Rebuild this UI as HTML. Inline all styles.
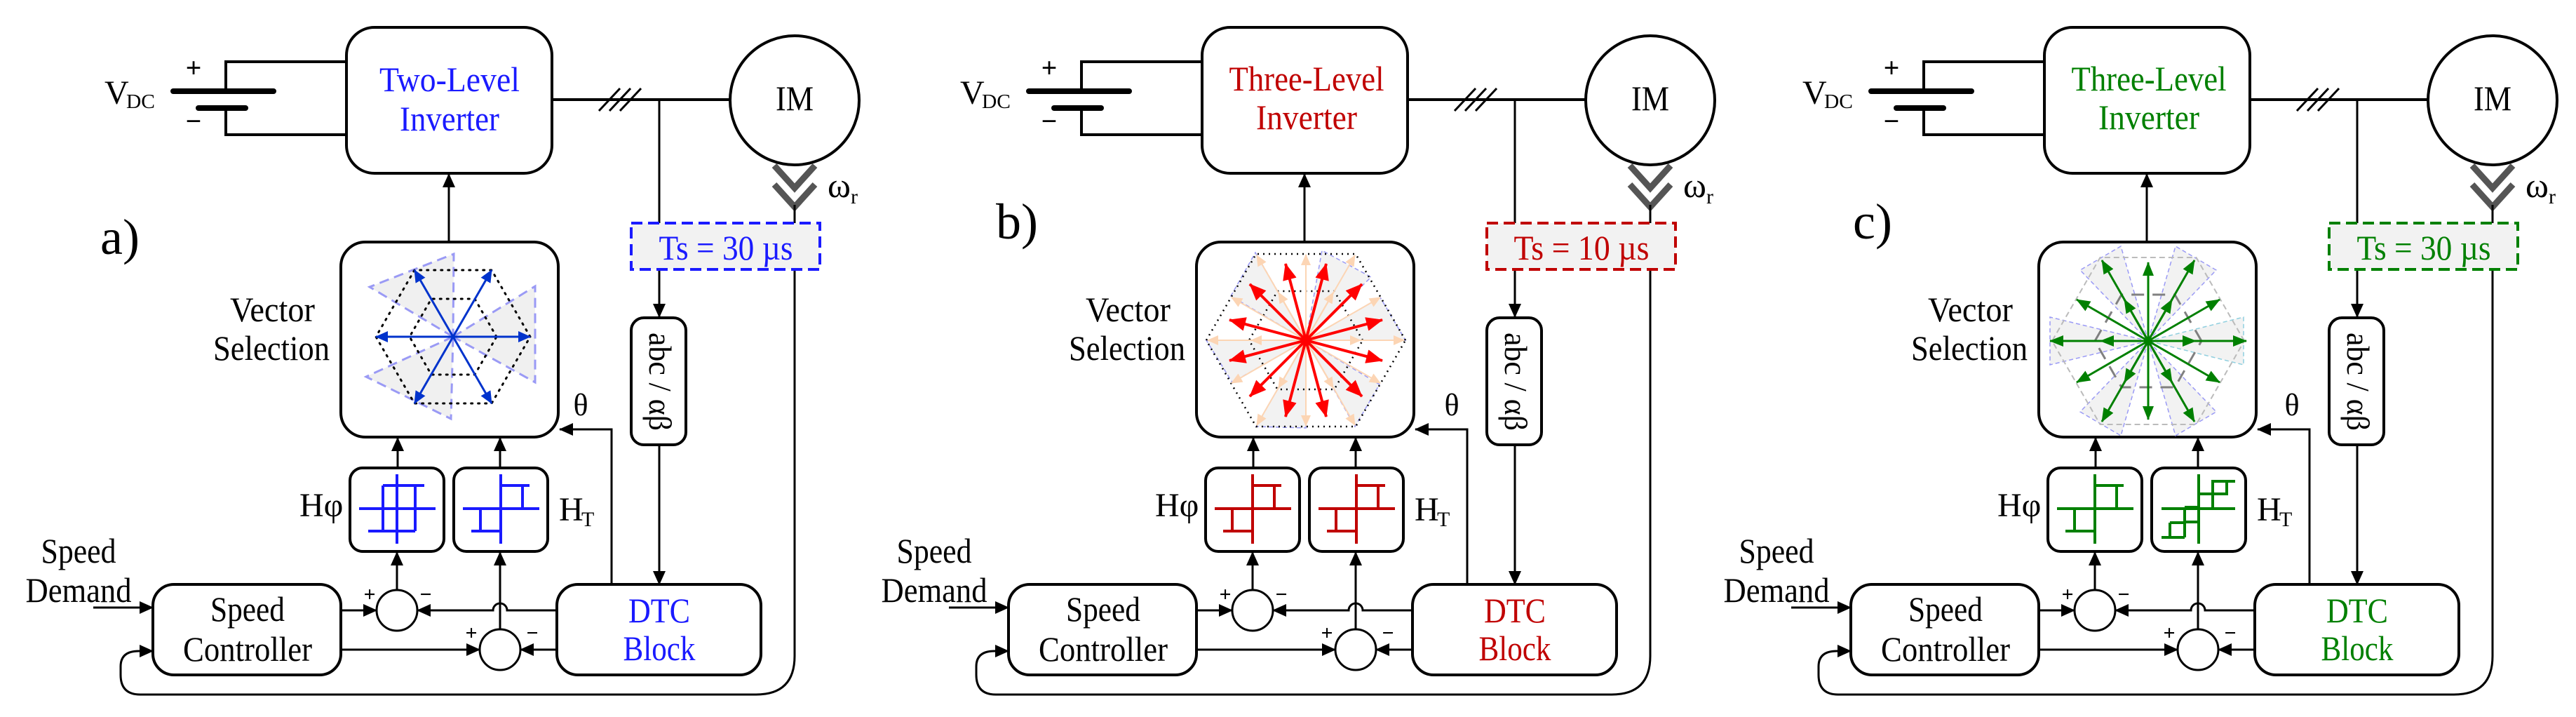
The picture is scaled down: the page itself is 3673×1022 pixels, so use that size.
<!DOCTYPE html>
<html><head><meta charset="utf-8"><style>
html,body{margin:0;padding:0;background:#fff}
svg{display:block}
text{font-family:"Liberation Serif",serif}
</style></head><body>
<svg width="3673" height="1022" viewBox="0 0 3673 1022" xmlns="http://www.w3.org/2000/svg">
<defs>
<marker id="ah" markerUnits="userSpaceOnUse" markerWidth="20" markerHeight="18" refX="19" refY="9" orient="auto"><path d="M0,0L20,9L0,18z" fill="#000"/></marker>
<marker id="ab" markerUnits="userSpaceOnUse" markerWidth="18" markerHeight="16" refX="17" refY="8" orient="auto"><path d="M0,0L18,8L0,16z" fill="#0033cc"/></marker>
<marker id="ar" markerUnits="userSpaceOnUse" markerWidth="24" markerHeight="20" refX="23" refY="10" orient="auto"><path d="M0,0L24,10L0,20z" fill="#ff0000"/></marker>
<marker id="ap" markerUnits="userSpaceOnUse" markerWidth="16" markerHeight="14" refX="15" refY="7" orient="auto"><path d="M0,0L16,7L0,14z" fill="#fcd5b4"/></marker>
<marker id="ag" markerUnits="userSpaceOnUse" markerWidth="20" markerHeight="16" refX="19" refY="8" orient="auto"><path d="M0,0L20,8L0,16z" fill="#008000"/></marker>
<g id="common" fill="none" stroke="#000">
  <path d="M494,88H322V130M322,154V192H494" stroke-width="4"/>
  <line x1="247" y1="130" x2="390" y2="130" stroke-width="8" stroke-linecap="round"/>
  <line x1="283" y1="154" x2="350" y2="154" stroke-width="8" stroke-linecap="round"/>
  <rect x="494" y="39" width="293" height="208" rx="40" stroke-width="4"/>
  <line x1="787" y1="142" x2="1042" y2="142" stroke-width="4"/>
  <path d="M854,158L884,126M869,158L899,126M884,158L914,126" stroke-width="3"/>
  <line x1="940" y1="142" x2="940" y2="318" stroke-width="3"/>
  <line x1="940" y1="384" x2="940" y2="452" stroke-width="3" marker-end="url(#ah)"/>
  <circle cx="1133" cy="143" r="92" stroke-width="4"/>
  <path d="M1104,236L1133,268L1162,236M1104,263L1133,295L1162,263" stroke="#555" stroke-width="9"/>
  <line x1="1133" y1="292" x2="1133" y2="318" stroke-width="3"/>
  <path d="M1133,384V935Q1133,990 1078,990H200Q172,990 172,962V950Q172,928 198,928H218" stroke-width="3" marker-end="url(#ah)"/>
  <rect x="900" y="453" width="78" height="181" rx="18" stroke-width="4"/>
  <line x1="940" y1="634" x2="940" y2="833" stroke-width="3" marker-end="url(#ah)"/>
  <rect x="794" y="833" width="291" height="129" rx="30" stroke-width="4"/>
  <path d="M872,833V612H798" stroke-width="3" marker-end="url(#ah)"/>
  <rect x="486" y="345" width="310" height="278" rx="35" stroke-width="4"/>
  <line x1="640" y1="345" x2="640" y2="248" stroke-width="3" marker-end="url(#ah)"/>
  <rect x="499" y="667" width="134" height="119" rx="18" stroke-width="4"/>
  <rect x="647" y="667" width="134" height="119" rx="18" stroke-width="4"/>
  <line x1="567" y1="667" x2="567" y2="624" stroke-width="3" marker-end="url(#ah)"/>
  <line x1="713" y1="667" x2="713" y2="624" stroke-width="3" marker-end="url(#ah)"/>
  <circle cx="566" cy="870" r="29" stroke-width="3"/>
  <circle cx="713" cy="926" r="29" stroke-width="3"/>
  <line x1="566" y1="841" x2="566" y2="787" stroke-width="3" marker-end="url(#ah)"/>
  <line x1="713" y1="897" x2="713" y2="787" stroke-width="3" marker-end="url(#ah)"/>
  <rect x="218" y="833" width="268" height="129" rx="30" stroke-width="4"/>
  <line x1="486" y1="870" x2="537" y2="870" stroke-width="3" marker-end="url(#ah)"/>
  <path d="M794,870H723A10,10 0 0 0 703,870H595" stroke-width="3" marker-end="url(#ah)"/>
  <line x1="486" y1="926" x2="684" y2="926" stroke-width="3" marker-end="url(#ah)"/>
  <line x1="794" y1="926" x2="742" y2="926" stroke-width="3" marker-end="url(#ah)"/>
  <line x1="133" y1="866" x2="218" y2="866" stroke-width="3" marker-end="url(#ah)"/>
</g>
<path id="relay" d="M67,9V108M13,58H122M67,25H108M98,25V58M38,58V90M25,90H67" fill="none" stroke-width="4"/>
<path id="hyst" d="M67,9V108M13,58H122M47,25H106M47,25V90M93,25V90M26,90H93" fill="none" stroke-width="4"/>
<path id="stair" d="M67,9V108M14,58H119M85,19H119M87,19V58M107,19V39M67,37H107M47,77H67M47,56V99M26,78V99M26,78H47M14,99H47M47,56H67" fill="none" stroke-width="4"/>
</defs>

<!-- ========== Panel a ========== -->
<g>
<use href="#common"/>
<rect x="900" y="318" width="269" height="66" fill="#f2f2f2" stroke="#1a1aff" stroke-width="4" stroke-dasharray="16,8"/>
<g font-size="50" text-anchor="middle">
<text x="641" y="130" fill="#1a1aff" textLength="200" lengthAdjust="spacingAndGlyphs">Two-Level</text>
<text x="641" y="186" fill="#1a1aff" textLength="142" lengthAdjust="spacingAndGlyphs">Inverter</text>
<text x="1035" y="370" fill="#1a1aff" textLength="191" lengthAdjust="spacingAndGlyphs">Ts = 30 µs</text>
<text x="940" y="887" fill="#1a1aff" textLength="88" lengthAdjust="spacingAndGlyphs">DTC</text>
<text x="940" y="941" fill="#1a1aff" textLength="103" lengthAdjust="spacingAndGlyphs">Block</text>
<text x="1133" y="157" textLength="54" lengthAdjust="spacingAndGlyphs">IM</text>
<text x="353" y="885" textLength="106" lengthAdjust="spacingAndGlyphs">Speed</text>
<text x="353" y="942" textLength="184" lengthAdjust="spacingAndGlyphs">Controller</text>
<text x="112" y="802" textLength="107" lengthAdjust="spacingAndGlyphs">Speed</text>
<text x="112" y="858" textLength="151" lengthAdjust="spacingAndGlyphs">Demand</text>
</g>
<g font-size="50" text-anchor="end">
<text x="449" y="458" textLength="121" lengthAdjust="spacingAndGlyphs">Vector</text>
<text x="470" y="513" textLength="166" lengthAdjust="spacingAndGlyphs">Selection</text>
</g>
<text x="149" y="148" font-size="48">V</text><text x="180" y="154" font-size="28" textLength="41" lengthAdjust="spacingAndGlyphs">DC</text>
<text x="276" y="110" font-size="40" font-family="Liberation Sans" text-anchor="middle" font-weight="bold">+</text>
<text x="276" y="186" font-size="40" font-family="Liberation Sans" text-anchor="middle" font-weight="bold">−</text>
<text x="1180" y="281" font-size="50">ω</text><text x="1213" y="290" font-size="30">r</text>
<text x="143" y="362" font-size="72">a)</text>
<text x="828" y="592" font-size="44" text-anchor="middle">θ</text>
<text x="427" y="736" font-size="48">Hφ</text>
<text x="797" y="742" font-size="48">H</text><text x="829" y="750" font-size="30">T</text>
<g font-size="30" font-family="Liberation Sans" font-weight="bold" text-anchor="middle">
<text x="527" y="857">+</text><text x="607" y="857">−</text>
<text x="672" y="912">+</text><text x="759" y="912">−</text>
</g>
<use href="#hyst" x="499" y="667" stroke="#1a1aff"/>
<use href="#relay" x="647" y="667" stroke="#1a1aff"/>
<!-- vector a -->
<g fill="#f0f0f0" stroke="#9a9af5" stroke-width="3" stroke-dasharray="14,8">
<polygon points="646,480 527,409 647,362"/>
<polygon points="646,480 522,537 643,597"/>
<polygon points="646,480 763,408 763,545"/>
</g>
<g fill="none" stroke="#000" stroke-width="3" stroke-dasharray="2,8" stroke-linecap="round">
<polygon points="756,480 701,385 591,385 536,480 591,575 701,575"/>
<polygon points="708,480 677,426 615,426 584,480 615,534 677,534"/>
</g>
<g stroke="#0033cc" stroke-width="3" marker-end="url(#ab)">
<line x1="646" y1="480" x2="756" y2="480"/><line x1="646" y1="480" x2="701" y2="385"/>
<line x1="646" y1="480" x2="591" y2="385"/><line x1="646" y1="480" x2="536" y2="480"/>
<line x1="646" y1="480" x2="591" y2="575"/><line x1="646" y1="480" x2="701" y2="575"/>
</g>
</g>

<!-- ========== Panel b ========== -->
<g transform="translate(1220,0)">
<use href="#common"/>
<rect x="900" y="318" width="269" height="66" fill="#f2f2f2" stroke="#c00000" stroke-width="4" stroke-dasharray="16,8"/>
<g font-size="50" text-anchor="middle">
<text x="643" y="129" fill="#c00000" textLength="221" lengthAdjust="spacingAndGlyphs">Three-Level</text>
<text x="643" y="184" fill="#c00000" textLength="144" lengthAdjust="spacingAndGlyphs">Inverter</text>
<text x="1035" y="370" fill="#c00000" textLength="193" lengthAdjust="spacingAndGlyphs">Ts = 10 µs</text>
<text x="940" y="887" fill="#c00000" textLength="88" lengthAdjust="spacingAndGlyphs">DTC</text>
<text x="940" y="941" fill="#c00000" textLength="103" lengthAdjust="spacingAndGlyphs">Block</text>
<text x="1133" y="157" textLength="54" lengthAdjust="spacingAndGlyphs">IM</text>
<text x="353" y="885" textLength="106" lengthAdjust="spacingAndGlyphs">Speed</text>
<text x="353" y="942" textLength="184" lengthAdjust="spacingAndGlyphs">Controller</text>
<text x="112" y="802" textLength="107" lengthAdjust="spacingAndGlyphs">Speed</text>
<text x="112" y="858" textLength="151" lengthAdjust="spacingAndGlyphs">Demand</text>
</g>
<g font-size="50" text-anchor="end">
<text x="449" y="458" textLength="121" lengthAdjust="spacingAndGlyphs">Vector</text>
<text x="470" y="513" textLength="166" lengthAdjust="spacingAndGlyphs">Selection</text>
</g>
<text x="149" y="148" font-size="48">V</text><text x="180" y="154" font-size="28" textLength="41" lengthAdjust="spacingAndGlyphs">DC</text>
<text x="276" y="110" font-size="40" font-family="Liberation Sans" text-anchor="middle" font-weight="bold">+</text>
<text x="276" y="186" font-size="40" font-family="Liberation Sans" text-anchor="middle" font-weight="bold">−</text>
<text x="1180" y="281" font-size="50">ω</text><text x="1213" y="290" font-size="30">r</text>
<text x="200" y="340" font-size="72">b)</text>
<text x="850" y="592" font-size="44" text-anchor="middle">θ</text>
<text x="427" y="736" font-size="48">Hφ</text>
<text x="797" y="742" font-size="48">H</text><text x="829" y="750" font-size="30">T</text>
<g font-size="30" font-family="Liberation Sans" font-weight="bold" text-anchor="middle">
<text x="527" y="857">+</text><text x="607" y="857">−</text>
<text x="672" y="912">+</text><text x="759" y="912">−</text>
</g>
<use href="#relay" x="499" y="667" stroke="#c00000"/>
<use href="#relay" x="647" y="667" stroke="#c00000"/>
<!-- vector b -->
<g transform="translate(642,485)">
<g fill="#f2f2f2" stroke="#9a9af5" stroke-width="1.5" stroke-dasharray="6,4">
<polygon points="0,0 142,0 106,-61"/>
<polygon points="0,0 93,-90 23,-128"/>
<polygon points="0,0 -72,-125 -107,-63"/>
<polygon points="0,0 -142,0 -105,60"/>
<polygon points="0,0 -71,123 0,125"/>
<polygon points="0,0 70,123 105,63"/>
</g>
<g fill="none" stroke="#000" stroke-width="2.5" stroke-dasharray="2,6">
<polygon points="142,0 71,-123 -71,-123 -142,0 -71,123 71,123"/>
<polygon points="81,0 40.5,-70 -40.5,-70 -81,0 -40.5,70 40.5,70"/>
</g>
<g stroke="#fcd5b4" stroke-width="2" marker-end="url(#ap)">
<line x1="0" y1="0" x2="140" y2="0"/><line x1="0" y1="0" x2="70" y2="-121"/><line x1="0" y1="0" x2="-70" y2="-121"/>
<line x1="0" y1="0" x2="-140" y2="0"/><line x1="0" y1="0" x2="-70" y2="121"/><line x1="0" y1="0" x2="70" y2="121"/>
<line x1="0" y1="0" x2="106" y2="-61"/><line x1="0" y1="0" x2="0" y2="-122"/><line x1="0" y1="0" x2="-106" y2="-61"/>
<line x1="0" y1="0" x2="-106" y2="61"/><line x1="0" y1="0" x2="0" y2="122"/><line x1="0" y1="0" x2="106" y2="61"/>
<line x1="0" y1="0" x2="78" y2="0"/><line x1="0" y1="0" x2="39" y2="-68"/><line x1="0" y1="0" x2="-39" y2="-68"/>
<line x1="0" y1="0" x2="-78" y2="0"/><line x1="0" y1="0" x2="-39" y2="68"/><line x1="0" y1="0" x2="39" y2="68"/>
</g>
<g stroke="#ff0000" stroke-width="4" marker-end="url(#ar)">
<line x1="0" y1="0" x2="109" y2="-29"/><line x1="0" y1="0" x2="80" y2="-80"/><line x1="0" y1="0" x2="29" y2="-109"/>
<line x1="0" y1="0" x2="-29" y2="-109"/><line x1="0" y1="0" x2="-80" y2="-80"/><line x1="0" y1="0" x2="-109" y2="-29"/>
<line x1="0" y1="0" x2="-109" y2="29"/><line x1="0" y1="0" x2="-80" y2="80"/><line x1="0" y1="0" x2="-29" y2="109"/>
<line x1="0" y1="0" x2="29" y2="109"/><line x1="0" y1="0" x2="80" y2="80"/><line x1="0" y1="0" x2="109" y2="29"/>
</g>
</g>
</g>

<!-- ========== Panel c ========== -->
<g transform="translate(2421,0)">
<use href="#common"/>
<rect x="900" y="318" width="269" height="66" fill="#f2f2f2" stroke="#008000" stroke-width="4" stroke-dasharray="16,8"/>
<g font-size="50" text-anchor="middle">
<text x="643" y="129" fill="#008000" textLength="221" lengthAdjust="spacingAndGlyphs">Three-Level</text>
<text x="643" y="184" fill="#008000" textLength="144" lengthAdjust="spacingAndGlyphs">Inverter</text>
<text x="1035" y="370" fill="#008000" textLength="191" lengthAdjust="spacingAndGlyphs">Ts = 30 µs</text>
<text x="940" y="887" fill="#008000" textLength="88" lengthAdjust="spacingAndGlyphs">DTC</text>
<text x="940" y="941" fill="#008000" textLength="103" lengthAdjust="spacingAndGlyphs">Block</text>
<text x="1133" y="157" textLength="54" lengthAdjust="spacingAndGlyphs">IM</text>
<text x="353" y="885" textLength="106" lengthAdjust="spacingAndGlyphs">Speed</text>
<text x="353" y="942" textLength="184" lengthAdjust="spacingAndGlyphs">Controller</text>
<text x="112" y="802" textLength="107" lengthAdjust="spacingAndGlyphs">Speed</text>
<text x="112" y="858" textLength="151" lengthAdjust="spacingAndGlyphs">Demand</text>
</g>
<g font-size="50" text-anchor="end">
<text x="449" y="458" textLength="121" lengthAdjust="spacingAndGlyphs">Vector</text>
<text x="470" y="513" textLength="166" lengthAdjust="spacingAndGlyphs">Selection</text>
</g>
<text x="149" y="148" font-size="48">V</text><text x="180" y="154" font-size="28" textLength="41" lengthAdjust="spacingAndGlyphs">DC</text>
<text x="276" y="110" font-size="40" font-family="Liberation Sans" text-anchor="middle" font-weight="bold">+</text>
<text x="276" y="186" font-size="40" font-family="Liberation Sans" text-anchor="middle" font-weight="bold">−</text>
<text x="1180" y="281" font-size="50">ω</text><text x="1213" y="290" font-size="30">r</text>
<text x="221" y="340" font-size="72">c)</text>
<text x="847" y="592" font-size="44" text-anchor="middle">θ</text>
<text x="427" y="736" font-size="48">Hφ</text>
<text x="797" y="742" font-size="48">H</text><text x="829" y="750" font-size="30">T</text>
<g font-size="30" font-family="Liberation Sans" font-weight="bold" text-anchor="middle">
<text x="527" y="857">+</text><text x="607" y="857">−</text>
<text x="672" y="912">+</text><text x="759" y="912">−</text>
</g>
<use href="#relay" x="499" y="667" stroke="#008000"/>
<use href="#stair" x="647" y="667" stroke="#008000"/>
<!-- vector c -->
<g transform="translate(642,486)">
<g fill="#f2f2f2" stroke="#9a9af5" stroke-width="1.5" stroke-dasharray="6,4">
<polygon points="0,0 136,-34 136,34" stroke="#8fcfdf"/>
<polygon points="0,0 97,-101 39,-135"/>
<polygon points="0,0 -39,-135 -97,-101"/>
<polygon points="0,0 -140,-34 -140,34"/>
<polygon points="0,0 -97,101 -39,135"/>
<polygon points="0,0 39,135 97,101"/>
</g>
<polygon points="137,0 68.5,-119 -68.5,-119 -137,0 -68.5,119 68.5,119" fill="none" stroke="#bbb" stroke-width="2" stroke-dasharray="8,5"/>
<polygon points="76,0 38,-66 -38,-66 -76,0 -38,66 38,66" fill="none" stroke="#808080" stroke-width="3" stroke-dasharray="18,12"/>
<g stroke="#008000" stroke-width="3" marker-end="url(#ag)">
<line x1="0" y1="0" x2="140" y2="0"/><line x1="0" y1="0" x2="102" y2="-59"/><line x1="0" y1="0" x2="66" y2="-115"/>
<line x1="0" y1="0" x2="0" y2="-112"/><line x1="0" y1="0" x2="-66" y2="-115"/><line x1="0" y1="0" x2="-102" y2="-59"/>
<line x1="0" y1="0" x2="-140" y2="0"/><line x1="0" y1="0" x2="-102" y2="59"/><line x1="0" y1="0" x2="-66" y2="115"/>
<line x1="0" y1="0" x2="0" y2="112"/><line x1="0" y1="0" x2="66" y2="115"/><line x1="0" y1="0" x2="102" y2="59"/>
<line x1="0" y1="0" x2="68" y2="0"/><line x1="0" y1="0" x2="34" y2="-59"/><line x1="0" y1="0" x2="-34" y2="-59"/>
<line x1="0" y1="0" x2="-68" y2="0"/><line x1="0" y1="0" x2="-34" y2="59"/><line x1="0" y1="0" x2="34" y2="59"/>
</g>
</g>
</g>

<!-- rotated abc labels -->
<text transform="translate(926,544) rotate(90)" font-size="46" text-anchor="middle" textLength="140" lengthAdjust="spacingAndGlyphs">abc / αβ</text>
<text transform="translate(2146,544) rotate(90)" font-size="46" text-anchor="middle" textLength="140" lengthAdjust="spacingAndGlyphs">abc / αβ</text>
<text transform="translate(3347,544) rotate(90)" font-size="46" text-anchor="middle" textLength="140" lengthAdjust="spacingAndGlyphs">abc / αβ</text>
</svg>
</body></html>
